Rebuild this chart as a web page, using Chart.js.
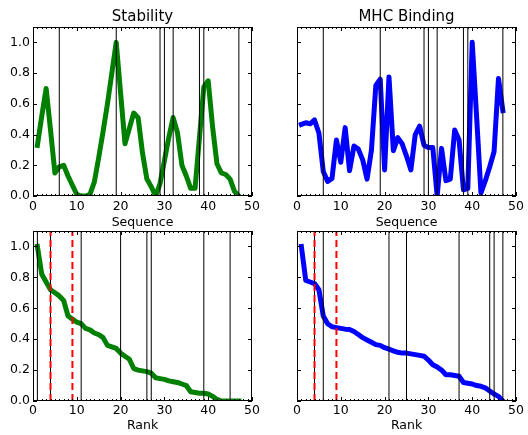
<!DOCTYPE html>
<html>
<head>
<meta charset="utf-8">
<script src="https://cdn.jsdelivr.net/npm/chart.js@4"></script>
<style>
  body { margin: 0; background: #fff; }
  #wrap { position: relative; width: 528px; height: 435px; }
  canvas { position: absolute; }
</style>
</head>
<body>
<div id="wrap">
  <canvas id="stab" width="264" height="232" style="left:0;top:0"></canvas>
  <canvas id="mhc" width="264" height="232" style="left:264px;top:0"></canvas>
  <canvas id="stabRank" width="264" height="217" style="left:0;top:218px"></canvas>
  <canvas id="mhcRank" width="264" height="217" style="left:264px;top:218px"></canvas>
</div>
<script>
// values per sequence position (1..47)
const stability = [0.33, 0.52, 0.70, 0.43, 0.15, 0.19, 0.20, 0.13, 0.07, 0.01,
  0.00, 0.00, 0.01, 0.09, 0.25, 0.42, 0.60, 0.80, 1.00, 0.67,
  0.34, 0.44, 0.54, 0.51, 0.28, 0.11, 0.06, 0.00, 0.08, 0.23,
  0.38, 0.51, 0.41, 0.20, 0.13, 0.05, 0.05, 0.38, 0.71, 0.75,
  0.45, 0.21, 0.15, 0.14, 0.11, 0.03, 0.00];
const mhcBinding = [0.466, 0.477, 0.47, 0.495, 0.41, 0.16, 0.095, 0.115, 0.365, 0.22,
  0.445, 0.165, 0.325, 0.305, 0.235, 0.11, 0.30, 0.72, 0.76, 0.17,
  0.775, 0.295, 0.38, 0.34, 0.26, 0.17, 0.40, 0.455, 0.33, 0.315,
  0.315, 0.0, 0.31, 0.10, 0.11, 0.43, 0.365, 0.04, 0.05, 1.0,
  0.52, 0.02, 0.10, 0.19, 0.29, 0.765, 0.555];

// values by rank (1..47)
const stabilityRanked = [1.0, 0.82, 0.77, 0.72, 0.70, 0.68, 0.65, 0.55, 0.53, 0.51,
  0.50, 0.47, 0.46, 0.44, 0.43, 0.41, 0.36, 0.35, 0.34, 0.31,
  0.29, 0.27, 0.21, 0.20, 0.195, 0.19, 0.18, 0.15, 0.145, 0.14,
  0.13, 0.125, 0.12, 0.11, 0.10, 0.06, 0.055, 0.05, 0.05, 0.045,
  0.03, 0.01, 0.0, 0.0, 0.0, 0.0, 0.0];
const mhcRanked = [1.0, 0.78, 0.77, 0.76, 0.72, 0.55, 0.50, 0.48, 0.475, 0.47,
  0.465, 0.463, 0.45, 0.43, 0.41, 0.395, 0.38, 0.365, 0.36, 0.345,
  0.335, 0.325, 0.315, 0.31, 0.31, 0.305, 0.30, 0.295, 0.29, 0.265,
  0.235, 0.22, 0.20, 0.17, 0.17, 0.165, 0.16, 0.12, 0.115, 0.11,
  0.10, 0.095, 0.085, 0.065, 0.045, 0.03, 0.0];

// marked positions (vertical black lines) and rank cutoffs (red dashed)
const seqMarks = [6, 19, 29, 30, 32, 38, 39, 47];
const stabRankMarks = [1, 4, 11, 20, 26, 27, 39, 45];
const mhcRankMarks = [4, 6, 21, 25, 37, 44, 45, 47];
const cutoffs = [4, 9];

const xTicks = [0, 10, 20, 30, 40, 50];
const yTicks = [0, 0.2, 0.4, 0.6, 0.8, 1.0];
const xMax = 50, yMax = 1.1;

const FONT = "DejaVu Sans";

// matplotlib-like frame with inward ticks on all four sides
const frameTicks = {
  id: "frameTicks",
  afterDraw(chart) {
    const { ctx, chartArea: a, scales: { x, y } } = chart;
    ctx.save();
    ctx.strokeStyle = "#000";
    ctx.lineWidth = 1;
    ctx.strokeRect(a.left + 0.5, a.top + 0.5, a.right - a.left - 1, a.bottom - a.top - 1);
    ctx.beginPath();
    for (let v = 0; v <= xMax; v++) {
      const px = Math.round(x.getPixelForValue(v)) + 0.5;
      const len = v % 10 === 0 ? 4 : 2;
      ctx.moveTo(px, a.bottom); ctx.lineTo(px, a.bottom - len);
      ctx.moveTo(px, a.top); ctx.lineTo(px, a.top + len);
    }
    yTicks.forEach(v => {
      const py = Math.round(y.getPixelForValue(v)) + 0.5;
      ctx.moveTo(a.left, py); ctx.lineTo(a.left + 4, py);
      ctx.moveTo(a.right, py); ctx.lineTo(a.right - 4, py);
    });
    ctx.stroke();
    ctx.restore();
  }
};

function vline(v, color, width, dash, order) {
  return {
    data: [{ x: v, y: 0 }, { x: v, y: yMax }],
    borderColor: color,
    borderWidth: width,
    borderDash: dash,
    pointRadius: 0,
    clip: 0,
    order: order
  };
}

function makePanel(id, opts) {
  const datasets = [{
    data: opts.values.map((v, i) => ({ x: i + 1, y: v })),
    borderColor: opts.color,
    borderWidth: 5,
    borderJoinStyle: "round",
    borderCapStyle: "square",
    pointRadius: 0,
    tension: 0,
    clip: 0,
    order: 3
  }];
  opts.marks.forEach(m => datasets.push(vline(m, "#000", 1, [], 2)));
  (opts.cutoffs || []).forEach(c => datasets.push(vline(c, "#ff0000", 2, [7, 4], 1)));

  new Chart(document.getElementById(id), {
    type: "line",
    data: { datasets: datasets },
    plugins: [frameTicks],
    options: {
      responsive: false,
      animation: false,
      devicePixelRatio: 1,
      layout: { padding: { left: 0, right: 12, top: opts.padTop, bottom: 0 } },
      plugins: {
        legend: { display: false },
        tooltip: { enabled: false },
        title: {
          display: !!opts.title,
          text: opts.title,
          fullSize: false,
          color: "#000",
          font: { family: FONT, size: 15, weight: "normal" },
          padding: { top: 8, bottom: 1 }
        }
      },
      scales: {
        x: {
          type: "linear",
          min: 0,
          max: xMax,
          grid: { display: false, drawTicks: false },
          border: { display: false },
          afterBuildTicks: s => { s.ticks = xTicks.map(v => ({ value: v })); },
          afterFit: s => { s.height = opts.xHeight; },
          ticks: {
            color: "#000",
            font: { family: FONT, size: 12.5 },
            padding: opts.xPad,
            maxRotation: 0,
            autoSkip: false
          },
          title: {
            display: true,
            text: opts.xTitle,
            color: "#000",
            font: { family: FONT, size: 12.5 },
            padding: { top: 0, bottom: opts.titlePad }
          }
        },
        y: {
          min: 0,
          max: yMax,
          grid: { display: false, drawTicks: false },
          border: { display: false },
          afterBuildTicks: s => { s.ticks = yTicks.map(v => ({ value: v })); },
          afterFit: s => { s.width = 33; },
          ticks: {
            display: opts.yLabels,
            color: "#000",
            font: { family: FONT, size: 12.5 },
            padding: 3,
            callback: v => v.toFixed(1)
          }
        }
      }
    }
  });
}

makePanel("stab", { values: stability, color: "#008000", marks: seqMarks, title: "Stability",
  xTitle: "Sequence", padTop: 0, xHeight: 36, xPad: 3, titlePad: 2, yLabels: true });
makePanel("mhc", { values: mhcBinding, color: "#0000ff", marks: seqMarks, title: "MHC Binding",
  xTitle: "Sequence", padTop: 0, xHeight: 36, xPad: 3, titlePad: 2, yLabels: false });
makePanel("stabRank", { values: stabilityRanked, color: "#008000", marks: stabRankMarks, cutoffs: cutoffs,
  xTitle: "Rank", padTop: 13, xHeight: 34, xPad: 2, titlePad: 1.5, yLabels: true });
makePanel("mhcRank", { values: mhcRanked, color: "#0000ff", marks: mhcRankMarks, cutoffs: cutoffs,
  xTitle: "Rank", padTop: 13, xHeight: 34, xPad: 2, titlePad: 1.5, yLabels: false });
</script>
</body>
</html>
